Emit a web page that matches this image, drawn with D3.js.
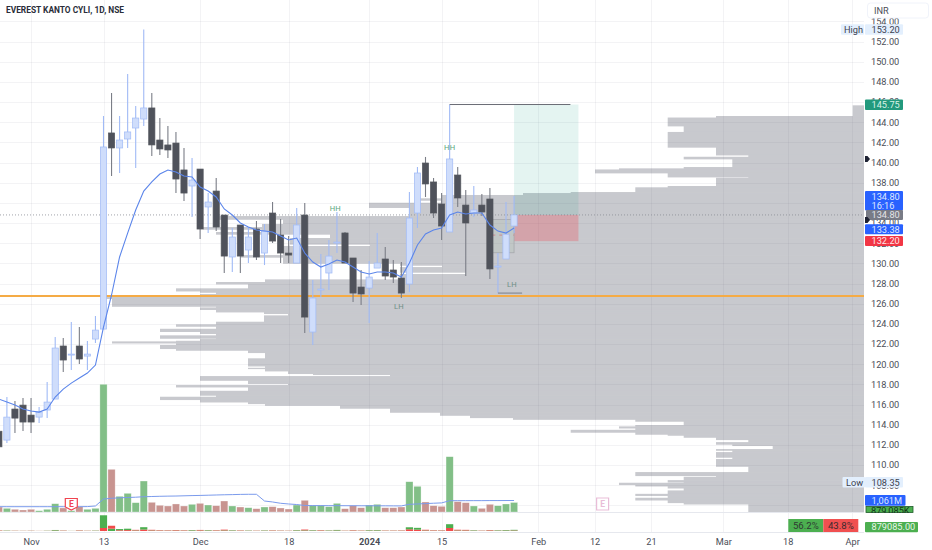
<!DOCTYPE html>
<html>
<head>
<meta charset="utf-8">
<script src="https://cdn.jsdelivr.net/npm/d3@7/dist/d3.min.js"></script>
<style>
  html, body { margin: 0; padding: 0; background: #fff; }
  svg { display: block; }
  text { font-family: Roboto, "Noto Sans", sans-serif; }
  .axis path { display: none; }
  .axis text { font-family: Roboto, sans-serif; font-size: 9.2px; fill: #4a4d57; }
</style>
</head>
<body>
<svg id="chart" width="932" height="550"></svg>
<script>
// daily bars, first visible bar is index 0, the 13 Nov bar is index 13
const opens = [113.35,112.47,115.55,115.94,114.95,114.75,115.45,116.54,121.8,120.9,121.8,120.8,122.49,
  123.48,142.93,141.44,142.33,143.42,144.31,145.41,142.23,141.74,141.93,139.26,137.67,139.35,135.59,137.17,
  134.79,130.63,133.8,131.32,133.4,131.02,134.99,132.81,131.02,130.03,134.79,123.19,127.35,129.04,132.01,
  133.01,130.53,127.65,127.55,129.53,130.43,129.34,128.54,127.95,134.99,139.95,138.07,135.88,133.11,138.76,
  135.78,134.99,135.78,136.38,129.63,130.43,133.7];
const highs = [113.65,116.74,116.34,116.64,116.64,115.74,118.22,122.69,122.59,124.18,123.68,122.29,124.77,
  144.61,146.89,144.61,148.78,145.6,153.2,146.89,144.41,143.62,143.03,141.44,140.45,139.35,136.97,138.46,
  134.79,133.5,133.8,133.6,134.2,133.9,136.08,134.39,132.71,135.49,135.98,128.34,130.92,132.31,135.09,
  133.11,130.53,129.34,130.23,133.01,131.62,130.33,130.13,137.07,139.55,140.55,138.46,136.97,145.75,139.55,
  137.27,137.67,136.87,137.47,131.02,136.08,136.68];
const lows = [111.0,112.17,113.17,113.36,113.17,114.16,114.65,116.54,119.22,119.42,120.01,119.42,122.09,
  123.48,138.66,138.96,141.44,139.45,143.62,140.65,140.74,140.45,136.97,136.18,134.59,132.41,133.01,133.2,
  129.04,129.14,129.04,130.03,130.33,129.83,132.01,130.03,130.03,130.03,123.09,121.9,126.66,127.35,131.02,
  130.03,126.16,125.86,124.08,129.53,128.34,128.05,126.56,127.15,133.5,136.58,134.49,132.31,133.11,135.59,
  128.74,134.59,134.69,128.44,127.05,130.43,133.0];
const closes = [111.8,114.75,114.65,114.26,114.26,115.25,116.24,121.6,120.41,121.0,120.51,121.0,123.38,
  141.54,141.44,142.23,143.03,144.41,145.41,141.74,141.34,141.24,138.36,136.97,138.26,133.4,136.08,133.6,
  130.72,132.61,130.72,132.61,130.63,133.2,132.21,131.02,130.82,133.8,124.67,126.56,127.45,130.72,132.11,
  130.03,127.05,126.96,128.64,130.03,128.74,128.64,127.05,134.49,138.96,137.87,134.99,133.7,140.35,136.48,
  134.0,135.29,135.09,129.44,129.73,132.89,134.8];
const priceMa = [116.54,116.24,115.94,115.55,115.35,115.25,115.55,116.74,117.53,118.12,118.62,119.12,119.91,
  123.68,126.86,130.63,133.0,135.29,137.17,138.07,138.86,139.26,139.06,138.66,138.56,137.57,137.17,136.58,
  135.39,134.79,134.0,133.6,133.3,133.2,133.11,132.71,132.31,132.51,131.02,130.13,129.63,129.93,130.33,
  130.13,129.63,129.14,128.94,129.14,129.14,129.04,128.64,130.03,131.82,132.91,133.3,133.5,134.79,135.09,
  134.89,134.99,134.99,133.8,133.2,133.0,133.5];
// volumes in thousands
const volumes = [460,340,250,185,250,120,250,765,370,120,490,250,340,
  11790,3940,1450,1725,860,2860,895,620,555,740,555,710,800,645,580,1015,555,460,395,305,460,490,370,275,645,
  1080,620,620,490,800,305,580,395,645,710,395,395,460,2795,2370,925,580,525,5105,950,860,555,340,710,580,740,879];
const volumeMa = [490,490,490,490,490,490,490,490,490,490,490,500,555,
  1200,1265,1310,1340,1365,1410,1430,1450,1465,1475,1495,1515,1530,1550,1570,1590,1605,1625,1635,1635,1015,925,805,740,690,
  600,590,590,585,585,580,580,575,575,570,570,565,560,710,740,775,810,840,1040,1045,1045,1050,1050,1055,1055,1060,1061];
const sellVolumes = [280,130,140,100,140,70,100,300,210,50,280,140,140,
  2250,2210,570,680,480,1100,520,360,320,420,320,280,470,260,340,590,220,270,160,180,190,280,210,160,260,
  620,250,360,200,320,175,340,230,260,290,230,230,270,1300,1000,540,340,300,2250,560,500,220,200,410,240,300,380];
// bar index of the earnings flags
const earnings = [9, 75];

// axis labels
const priceTicks = d3.range(108, 156, 2);
const timeBars = [4, 13, 25, 36, 46, 55, 67, 74, 81, 90, 98, 106];
const timeLabels = ["Nov", "13", "Dec", "18", "2024", "15", "Feb", "12", "21", "Mar", "18", "Apr"];

// fixed range volume profile: price at the top of each row and volume of that row
const profileTop = [145.67,144.61,144.46,143.65,143.03,141.54,140.77,140.57,140.38,139.55,139.42,139.31,138.99,138.59,138.49,
  137.67,137.54,137.07,136.97,136.78,136.45,136.28,136.01,135.56,134.69,134.39,133.9,133.6,133.4,133.11,132.91,132.51,131.92,131.72,
  130.82,130.63,130.03,129.83,129.63,129.14,128.94,128.41,128.15,127.98,127.52,127.28,127.15,126.96,126.69,126.53,125.76,125.63,125.44,
  125.2,125.04,124.84,124.21,123.95,123.78,123.51,123.26,123.06,122.86,122.59,122.49,122.32,122.26,122.12,121.9,121.57,121.4,121.17,
  120.58,119.84,119.64,119.58,119.35,119.09,118.99,118.82,118.42,118.1,117.93,117.76,117.36,116.94,116.77,116.51,116.27,116.11,115.94,
  115.65,115.25,114.95,114.72,114.55,114.36,113.96,113.83,113.69,113.49,113.27,113.07,112.97,112.77,112.54,112.27,112.08,111.95,111.58,
  111.48,111.28,110.79,110.59,109.89,109.3,108.97,108.83,108.5,108.33,108.24,108.08,107.94,107.74,107.48,107.14,107.0,106.75,106.55,
  106.29,106.15,105.33];
const profileVol = [113,1480,1963,1803,1963,1480,1157,1803,1317,1803,2450,2690,1963,1157,1480,
  1963,2287,2933,3410,4220,4460,4220,4950,4540,6480,5810,6020,6610,6020,6480,5340,5740,4940,5810,
  6240,5810,4640,4220,4640,3980,4640,5990,6480,6160,6880,6640,6480,6640,7610,7520,6480,6640,6480,
  6000,5760,6000,6480,6880,6480,7040,6640,6480,7040,6480,6640,6880,7520,6880,7040,6880,6160,5990,
  6160,5990,6160,5990,5760,5510,4740,6640,6160,5760,6880,6160,6640,6480,7040,6640,6160,5990,5240,
  4740,4240,3940,3510,2287,1803,2287,2450,2287,2933,2287,1963,1803,1480,1157,1480,1317,913,1480,
  1317,1480,1317,1480,1157,2287,1480,1803,1963,1803,2450,2287,1963,1803,1963,2287,1963,2287,1963,
  1803,1157];

// long position tool and drawings
const entryPrice = 134.8, targetPrice = 145.75, stopPrice = 132.2;
const positionBars = [64, 72];
const supportPrice = 126.75;
const pivotLabels = [
  { bar: 41.8, price: 135.2, text: "HH", color: "#5aa77d" },
  { bar: 56, price: 141.2, text: "HH", color: "#5aa77d" },
  { bar: 49.7, price: 125.45, text: "LH", color: "#6f8f86" },
  { bar: 63.75, price: 127.65, text: "LH", color: "#6f8f86" }
];

const svg = d3.select("#chart");
const paneRight = 864;

const x = d3.scaleLinear().domain([0, 106]).range([-1.15, 852.15]);
const y = d3.scaleLinear().domain([140, 110]).range([162.5, 465]);
const yVol = d3.scaleLinear().domain([0, 12000]).range([512, 382]);
const yDelta = d3.scaleLinear().domain([0, 12000]).range([531, 515]);
const profileX = d3.scaleLinear().domain([0, 8640]).range([paneRight, 0]);

// volume profile sits under everything
svg.append("g").selectAll("rect")
  .data(profileVol)
  .enter().append("rect")
  .attr("x", d => profileX(d))
  .attr("y", (d, i) => y(profileTop[i]))
  .attr("width", d => paneRight - profileX(d))
  .attr("height", (d, i) => y(profileTop[i + 1]) - y(profileTop[i]) + 0.7)
  .attr("fill", "#c8c9ce");

// grid
const grid = svg.append("g").attr("stroke", "rgba(100,105,125,0.08)").attr("stroke-width", 1);
priceTicks.concat([106]).forEach(p => {
  grid.append("line").attr("x1", 0).attr("x2", paneRight)
    .attr("y1", Math.round(y(p)) + 0.5).attr("y2", Math.round(y(p)) + 0.5);
});
timeBars.forEach(b => {
  grid.append("line").attr("y1", 0).attr("y2", 532)
    .attr("x1", Math.round(x(b)) + 0.5).attr("x2", Math.round(x(b)) + 0.5);
});

// pane separators
[512.5, 532.5].forEach(v => {
  svg.append("line").attr("x1", 0).attr("x2", paneRight).attr("y1", v).attr("y2", v)
    .attr("stroke", "#e6e8ee");
});

// horizontal support and last price lines
svg.append("line").attr("x1", 0).attr("x2", paneRight)
  .attr("y1", y(supportPrice)).attr("y2", y(supportPrice))
  .attr("stroke", "#f5ab45").attr("stroke-width", 2);
svg.append("line").attr("x1", 0).attr("x2", paneRight)
  .attr("y1", y(entryPrice)).attr("y2", y(entryPrice))
  .attr("stroke", "#8a8d96").attr("stroke-width", 0.8).attr("stroke-dasharray", "1 2");

// position tool
svg.append("rect")
  .attr("x", x(positionBars[0])).attr("width", x(positionBars[1]) - x(positionBars[0]))
  .attr("y", y(targetPrice)).attr("height", y(entryPrice) - y(targetPrice))
  .attr("fill", "rgba(8,153,129,0.11)");
svg.append("rect")
  .attr("x", x(positionBars[0])).attr("width", x(positionBars[1]) - x(positionBars[0]))
  .attr("y", y(entryPrice)).attr("height", y(stopPrice) - y(entryPrice))
  .attr("fill", "rgba(242,54,69,0.26)");

// grey selection box next to the entry
svg.append("rect")
  .attr("x", x(61.3)).attr("width", x(64) - x(61.3))
  .attr("y", y(134.35)).attr("height", y(131.05) - y(134.35))
  .attr("fill", "rgba(170,190,175,0.22)").attr("stroke", "#a6a8ad").attr("stroke-width", 0.8);
svg.append("line")
  .attr("x1", x(61.3)).attr("x2", x(64))
  .attr("y1", y(132.8)).attr("y2", y(132.8))
  .attr("stroke", "rgba(205,110,120,0.7)").attr("stroke-width", 1).attr("stroke-dasharray", "3 4");

// candles
const candle = svg.append("g").selectAll("g")
  .data(opens)
  .enter().append("g");
candle.append("line")
  .attr("x1", (d, i) => x(i)).attr("x2", (d, i) => x(i))
  .attr("y1", (d, i) => y(highs[i])).attr("y2", (d, i) => y(lows[i]))
  .attr("stroke", (d, i) => closes[i] >= opens[i] ? "#a0baf6" : "#7b7e87")
  .attr("stroke-width", 1.1);
candle.append("rect")
  .attr("x", (d, i) => x(i) - 3.1)
  .attr("width", 6.2)
  .attr("y", (d, i) => y(Math.max(opens[i], closes[i])))
  .attr("height", (d, i) => Math.max(1, Math.abs(y(opens[i]) - y(closes[i]))))
  .attr("fill", (d, i) => closes[i] >= opens[i] ? "#cfddfb" : "#4f525b")
  .attr("stroke", (d, i) => closes[i] >= opens[i] ? "#a0baf6" : "#55585f")
  .attr("stroke-width", 0.7);

// price moving average
const line = d3.line()
  .x((d, i) => x(i))
  .y(d => y(d));
svg.append("path")
  .datum(priceMa)
  .attr("fill", "none")
  .attr("stroke", "#5b85ea")
  .attr("stroke-width", 1.1)
  .attr("d", line);

// drawings around the wicks
svg.append("line")
  .attr("x1", x(56)).attr("x2", x(71))
  .attr("y1", y(targetPrice)).attr("y2", y(targetPrice))
  .attr("stroke", "#6a6c75").attr("stroke-width", 1);
svg.append("line")
  .attr("x1", x(62)).attr("x2", x(65))
  .attr("y1", y(127.05)).attr("y2", y(127.05))
  .attr("stroke", "#7b7e87").attr("stroke-width", 1);
svg.append("g").selectAll("text")
  .data(pivotLabels)
  .enter().append("text")
  .attr("x", d => x(d.bar))
  .attr("y", d => y(d.price))
  .attr("text-anchor", "middle")
  .attr("font-size", 7.6)
  .attr("letter-spacing", 0.2)
  .attr("fill", d => d.color)
  .text(d => d.text);

// volume pane
const volColor = (d, i) => closes[i] >= opens[i] ? "#82bf87" : "#c89490";
svg.append("g").selectAll("rect")
  .data(volumes)
  .enter().append("rect")
  .attr("x", (d, i) => x(i) - 3.6)
  .attr("width", 7.2)
  .attr("y", d => yVol(d))
  .attr("height", d => yVol(0) - yVol(d))
  .attr("fill", volColor)
  .attr("stroke", "#fff").attr("stroke-opacity", 0.5).attr("stroke-width", 0.6);
svg.append("path")
  .datum(volumeMa)
  .attr("fill", "none")
  .attr("stroke", "#7b9bec")
  .attr("stroke-width", 1)
  .attr("d", d3.line().x((d, i) => x(i)).y(d => yVol(d)));

// earnings flags
earnings.forEach(b => {
  const past = b < opens.length;
  const c = past ? "#f0434f" : "#e9bdd8";
  const g = svg.append("g").attr("transform", `translate(${x(b)},504)`);
  g.append("path")
    .attr("d", past ? "M-6,-5.5H6V3L0,6L-6,3Z" : "M-6,-6H6V6H-6Z")
    .attr("fill", "#fff").attr("stroke", c).attr("stroke-width", 1.2);
  g.append("text").attr("text-anchor", "middle").attr("y", 3.2)
    .attr("font-size", 8.5).attr("font-weight", 700).attr("fill", c).text("E");
});

// buy and sell pressure pane, smaller side at the bottom
const delta = svg.append("g").selectAll("g").data(volumes).enter().append("g");
delta.each(function(d, i) {
  const sell = sellVolumes[i], buy = d - sell;
  const low = Math.min(buy, sell), high = Math.max(buy, sell);
  const g = d3.select(this);
  g.append("rect").attr("x", x(i) - 3.6).attr("width", 7.2)
    .attr("y", yDelta(low)).attr("height", yDelta(0) - yDelta(low))
    .attr("fill", sell <= buy ? "#f04b4b" : "#4caf50");
  g.append("rect").attr("x", x(i) - 3.6).attr("width", 7.2)
    .attr("y", yDelta(low + high)).attr("height", yDelta(low) - yDelta(low + high))
    .attr("fill", sell <= buy ? "#4caf50" : "#f04b4b");
});

// price axis
svg.append("g")
  .attr("class", "axis")
  .attr("transform", `translate(${paneRight + 1},0)`)
  .call(d3.axisRight(y).tickValues(priceTicks).tickSize(0).tickPadding(6).tickFormat(d3.format(".2f")));

// time axis
svg.append("g")
  .attr("class", "axis")
  .attr("transform", "translate(0,532)")
  .call(d3.axisBottom(x).tickValues(timeBars).tickSize(0).tickPadding(6)
    .tickFormat(d => timeLabels[timeBars.indexOf(d)]))
  .selectAll("text")
  .attr("font-weight", d => d === 46 ? 700 : 400);

// price labels on the right
function priceLabel(top, h, text, fill, color, left = 865, w = 38, pad = 6.5) {
  svg.append("rect").attr("x", left).attr("y", top).attr("width", w).attr("height", h)
    .attr("rx", 1).attr("fill", fill);
  svg.append("text").attr("x", left + pad).attr("y", top + h / 2 + 3.3)
    .attr("font-size", 9.2).attr("fill", color).text(text);
}
priceLabel(24.2, 10.5, "153.20", "#e3effd", "#3d4250");
priceLabel(24.2, 10.5, "High", "#e3effd", "#3d4250", 841, 23, 3);
priceLabel(99.5, 10.5, "145.75", "#22997d", "#d8f2e6");
svg.append("rect").attr("x", 865).attr("y", 191).attr("width", 38).attr("height", 19.5).attr("rx", 1).attr("fill", "#2962ff");
svg.append("text").attr("x", 871.5).attr("y", 199.5).attr("font-size", 9.2).attr("fill", "#dfe8ff").text("134.80");
svg.append("text").attr("x", 871.5).attr("y", 208.5).attr("font-size", 9.2).attr("fill", "#dfe8ff").text("16:16");
priceLabel(210, 10, "134.80", "#787b86", "#e4e5e9", 866, 37, 5.5);
priceLabel(224.3, 10, "133.38", "#2962ff", "#dfe8ff");
priceLabel(236, 10, "132.20", "#f23645", "#ffe6e8");
priceLabel(477, 10.5, "108.35", "#e3effd", "#3d4250");
priceLabel(477, 10.5, "Low", "#e3effd", "#3d4250", 842.5, 22.5, 3.5);
priceLabel(495, 10.7, "1,061M", "#2962ff", "#dfe8ff", 865, 40.5);

// last volume label is cut by the pane edge
svg.append("rect").attr("x", 866).attr("y", 506.5).attr("width", 47).attr("height", 6)
  .attr("fill", "#4caf50").attr("stroke", "#1f5a2a").attr("stroke-width", 0.8);
svg.append("text").attr("x", 871).attr("y", 513.5).attr("font-size", 9.2).attr("fill", "#12351a").text("879,085K");
svg.append("rect").attr("x", 864).attr("y", 513).attr("width", 68).attr("height", 4).attr("fill", "#fff");

priceLabel(522, 10.3, "879085.00", "#4caf50", "#e9f6ea", 865, 53);

// buy and sell share boxes
svg.append("rect").attr("x", 788.3).attr("y", 519).attr("width", 35).attr("height", 13).attr("fill", "#4caf50");
svg.append("rect").attr("x", 823.3).attr("y", 519).attr("width", 35).attr("height", 13).attr("fill", "#f05050");
svg.append("text").attr("x", 805.8).attr("y", 529).attr("text-anchor", "middle").attr("font-size", 9.6).attr("fill", "#2f3a33").text("56.2%");
svg.append("text").attr("x", 840.8).attr("y", 529).attr("text-anchor", "middle").attr("font-size", 9.6).attr("fill", "#3a2a2f").text("43.8%");

// currency box
svg.append("rect").attr("x", 867.5).attr("y", 3).attr("width", 61).attr("height", 15).attr("rx", 3)
  .attr("fill", "#fff").attr("stroke", "#f0f3fa");
svg.append("text").attr("x", 874).attr("y", 14).attr("font-size", 9.2).attr("fill", "#4a4d57").text("INR");

// small markers on the scale edge
[159, 220].forEach(v => {
  svg.append("path").attr("transform", `translate(865,${v})`)
    .attr("d", "M0,-3H2.5L5,0L2.5,3H0Z").attr("fill", "#1e2233");
});

// title
svg.append("text").attr("x", 6).attr("y", 13)
  .attr("font-size", 8.2).attr("font-weight", 700).attr("fill", "#2a2e39")
  .attr("textLength", 118).attr("lengthAdjust", "spacingAndGlyphs")
  .text("EVEREST KANTO CYLI, 1D, NSE");
</script>
</body>
</html>
